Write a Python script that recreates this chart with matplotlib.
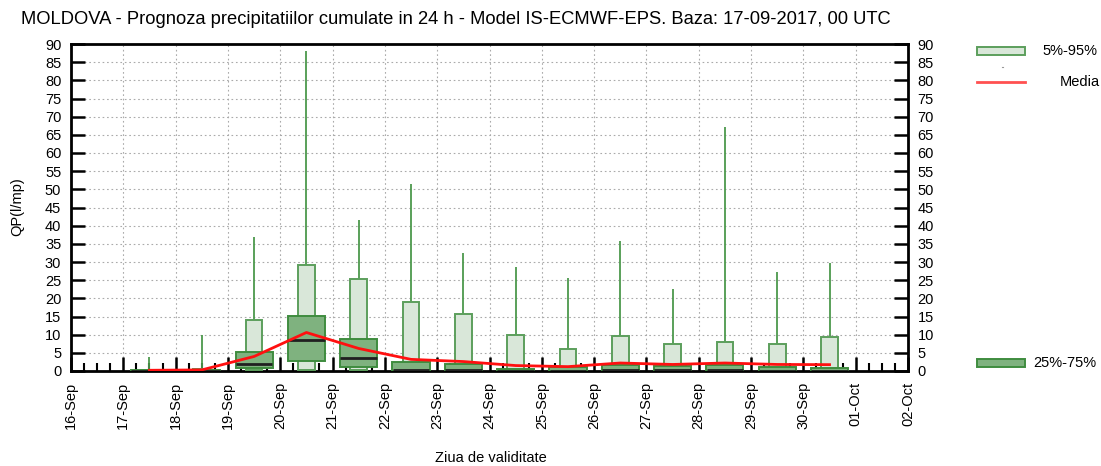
import numpy as np
import matplotlib
matplotlib.use("Agg")
import matplotlib.pyplot as plt
from matplotlib.patches import Rectangle
from matplotlib.lines import Line2D

plt.rcParams['font.family'] = ['Liberation Sans', 'DejaVu Sans']

# date labels on the x axis (day boundaries)
day_labels = ['16-Sep', '17-Sep', '18-Sep', '19-Sep', '20-Sep', '21-Sep', '22-Sep', '23-Sep',
              '24-Sep', '25-Sep', '26-Sep', '27-Sep', '28-Sep', '29-Sep', '30-Sep', '01-Oct', '02-Oct']

# forecast days (index from 16-Sep), boxes sit in the middle of each day
day_idx = [1, 2, 3, 4, 5, 6, 7, 8, 9, 10, 11, 12, 13, 14]

# ensemble statistics, l/mp
q_max = [3.9, 9.9, 37.0, 88.2, 41.6, 51.4, 32.5, 28.7, 25.5, 35.9, 22.5, 67.2, 27.3, 29.7]
q95 = [0.3, 0.5, 14.1, 29.3, 25.4, 18.9, 15.8, 9.9, 6.1, 9.7, 7.5, 7.9, 7.5, 9.4]
q05 = [0.0, 0.0, 0.3, 0.3, 0.3, 0.0, 0.0, 0.0, 0.0, 0.0, 0.0, 0.0, 0.0, 0.0]
q75 = [0.2, 0.3, 5.1, 15.1, 8.9, 2.4, 1.8, 0.5, 1.2, 1.6, 1.4, 1.6, 1.2, 0.7]
q25 = [0.0, 0.0, 0.7, 2.75, 1.0, 0.0, 0.0, 0.0, 0.0, 0.0, 0.0, 0.0, 0.0, 0.0]
q50 = [0.1, 0.1, 2.0, 8.4, 3.7, 0.3, 0.2, 0.1, 0.1, 0.3, 0.2, 0.2, 0.1, 0.1]
media = [0.2, 0.3, 4.0, 10.6, 6.2, 3.2, 2.6, 1.5, 1.2, 2.2, 1.8, 2.2, 1.8, 1.75]

y_ticks = list(range(0, 95, 5))

light_fill = '#d9e7d9'
light_edge = '#5c9f5c'
dark_fill = '#7fb27f'
dark_edge = '#3f8c3f'

fig = plt.figure(figsize=(11.01, 4.66), dpi=100)
ax = fig.add_axes([71 / 1101, 1 - 371 / 466, (908 - 71) / 1101, (371 - 44) / 466])

x = np.array(day_idx) + 0.5
q_max = np.array(q_max)
q95 = np.array(q95)
q05 = np.array(q05)
q75 = np.array(q75)
q25 = np.array(q25)

# whiskers
ax.vlines(x, q95, q_max, color='#4c994c', lw=1.3, zorder=2)
# 5%-95% boxes
ax.bar(x, q95 - q05, bottom=q05, width=0.32, color=light_fill, edgecolor=light_edge, lw=1.4, zorder=3)
# 25%-75% boxes
ax.bar(x, q75 - q25, bottom=q25, width=0.71, color=dark_fill, edgecolor=dark_edge, lw=1.4, zorder=4)
# median
ax.hlines(q50, x - 0.35, x + 0.35, color='#202020', lw=2, zorder=5)
# mean
ax.plot(x, media, color='#ff1010', lw=2, zorder=6)

ax.set_xlim(0, 16)
ax.set_ylim(0, 90)
ax.set_yticks(y_ticks)
ax.set_xticks(range(len(day_labels)))
ax.set_xticks(np.arange(0, 16.01, 0.25), minor=True)
ax.set_xticklabels(day_labels, rotation=90, fontsize=10.5)
ax.tick_params(axis='x', which='major', direction='in', length=10, width=1.8, pad=8)
ax.tick_params(axis='x', which='minor', direction='in', length=6, width=1.5)
ax.tick_params(axis='y', direction='in', length=10, width=1.8, labelsize=10.5, pad=7,
               right=True, labelright=True)

ax.grid(True, which='major', color='#aaaaaa', lw=0.8, linestyle=(0, (1.5, 2.5)))
for sp in ax.spines.values():
    sp.set_linewidth(2)

fig.text(456 / 1101, 1 - 20 / 466, 'MOLDOVA - Prognoza precipitatiilor cumulate in 24 h - Model IS-ECMWF-EPS. Baza: 17-09-2017, 00 UTC',
         ha='center', va='center', fontsize=13.2)
fig.text(17 / 1101, 1 - 207 / 466, 'QP(l/mp)', rotation=90, ha='center', va='center', fontsize=10.5)
fig.text(491 / 1101, 1 - 458 / 466, 'Ziua de validitate', ha='center', va='center', fontsize=10.5)

# legend on the right
fig.add_artist(Rectangle((977 / 1101, 1 - 55 / 466), 48 / 1101, 8 / 466, transform=fig.transFigure,
                         facecolor=light_fill, edgecolor=light_edge, lw=1.4))
fig.text(1042 / 1101, 1 - 51 / 466, '5%-95%', ha='left', va='center', fontsize=10.5)
fig.add_artist(Line2D([1002 / 1101, 1003 / 1101], [1 - 67 / 466, 1 - 67 / 466], transform=fig.transFigure,
                      color='#999999', lw=0.8))
fig.add_artist(Line2D([977 / 1101, 1025 / 1101], [1 - 82 / 466, 1 - 82 / 466], transform=fig.transFigure,
                      color='#ff5050', lw=2))
fig.text(1100 / 1101, 1 - 82 / 466, 'Media', ha='right', va='center', fontsize=10.5)
fig.add_artist(Rectangle((977 / 1101, 1 - 367 / 466), 48 / 1101, 8 / 466, transform=fig.transFigure,
                         facecolor=dark_fill, edgecolor=dark_edge, lw=1.4))
fig.text(1033 / 1101, 1 - 363 / 466, '25%-75%', ha='left', va='center', fontsize=10.5)

fig.savefig('out.png', dpi=100)
